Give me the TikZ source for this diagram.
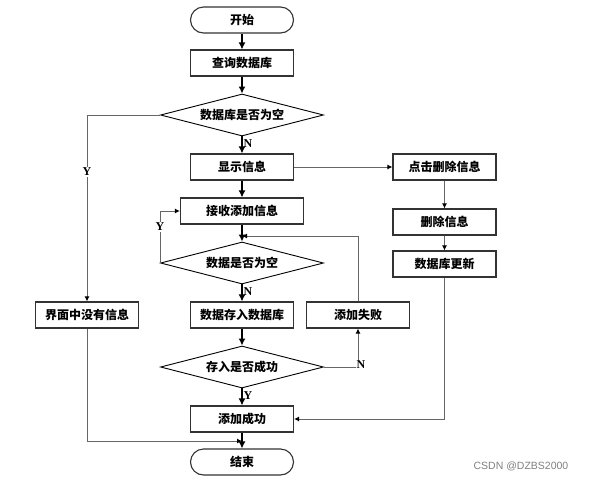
\documentclass[tikz,border=0pt]{standalone}
\usepackage{fontspec}
\setmainfont{Liberation Serif}
\newfontfamily\cjk{Noto Sans CJK SC}
\usetikzlibrary{shapes.geometric,arrows.meta}
\begin{document}
\begin{tikzpicture}[x=1pt,y=-1pt,
  box/.style={draw=black!80, line width=1.1pt, minimum width=103pt, minimum height=26pt, inner sep=0pt,
     font=\cjk\bfseries\fontsize{12}{12}\selectfont},
  wbox/.style={box, minimum width=123pt},
  term/.style={box, rounded corners=13pt},
  dia/.style={draw=black, line width=0.9pt, diamond, aspect=3.9, minimum width=163pt, minimum height=42pt, inner sep=0pt,
     font=\cjk\bfseries\fontsize{12}{12}\selectfont},
  main/.style={line width=1.8pt, draw=black, -{Latex[length=7pt,width=7pt]}},
  thin/.style={line width=1pt, draw=black!60, -{Latex[length=5pt,width=5pt,color=black]}},
  lab/.style={font=\bfseries\fontsize{12}{12}\selectfont, inner sep=1pt},
  labw/.style={lab, fill=white}
]
\useasboundingbox (0,0) rectangle (589,483);

\node[term] (start) at (242,20) {开始};
\node[box] (query) at (242,63) {查询数据库};
\node[dia] (d1) at (242,115) {数据库是否为空};
\node[box] (show) at (242,167) {显示信息};
\node[wbox] (recv) at (242,211) {接收添加信息};
\node[dia] (d2) at (242,263) {数据是否为空};
\node[box] (store) at (242,315) {数据存入数据库};
\node[dia] (d3) at (242,367) {存入是否成功};
\node[box] (succ) at (242,419) {添加成功};
\node[term] (end) at (242,462) {结束};

\node[box] (del1) at (444.5,167) {点击删除信息};
\node[box] (del2) at (444.5,222) {删除信息};
\node[box] (upd) at (444.5,264) {数据库更新};
\node[box] (fail) at (358,315) {添加失败};
\node[box] (empty) at (87,315) {界面中没有信息};

\coordinate (j1) at (242,441);
\coordinate (j2) at (242,236);

\draw[main] (start) -- (query);
\draw[main] (query) -- (d1);
\draw[main] (d1) -- (show);
\draw[main] (show) -- (recv);
\draw[main] (recv) -- (d2);
\draw[main] (d2) -- (store);
\draw[main] (store) -- (d3);
\draw[main] (d3) -- (succ);
\draw[main] (succ) -- (end);

\draw[thin] (show.east) -- (del1.west);
\draw[thin] (del1) -- (del2);
\draw[thin] (del2) -- (upd);
\draw[thin] (upd.south) |- (succ.east);
\draw[thin] (d1.west) -| (empty.north);
\draw[thin] (empty.south) |- (j1);
\draw[thin] (d2.west) |- (recv.west);
\draw[thin] (d3.east) -| (fail.south);
\draw[thin] (fail.north) |- (j2);

\node[lab] (n1) at (248,144) {N};
\node[lab] (n2) at (248,292) {N};
\node[lab] (y3) at (248,396) {Y};
\node[labw] (y1) at (87,172) {Y};
\node[labw] (y2) at (160,227) {Y};
\node[labw] (n3) at (361,365) {N};

\node[font=\fontspec{Liberation Sans}\fontsize{10.5}{10.5}\selectfont, text=black!50, inner sep=0pt] (wm) at (521,466) {CSDN @DZBS2000};
\end{tikzpicture}
\end{document}
